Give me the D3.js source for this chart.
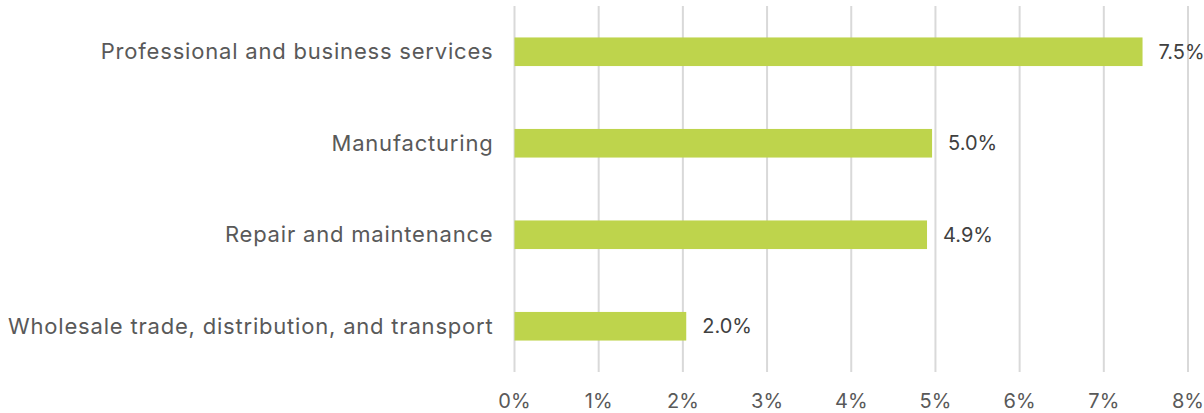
<!DOCTYPE html>
<html>
<head>
<meta charset="utf-8">
<script src="https://cdn.jsdelivr.net/npm/d3@7"></script>
<style>
  body { margin: 0; background: #fff; }
  text { font-family: "Inter", "Noto Sans", sans-serif; }
</style>
</head>
<body>
<svg id="chart"></svg>
<script>
const width = 1204;
const height = 413;

const categories = [
  "Professional and business services",
  "Manufacturing",
  "Repair and maintenance",
  "Wholesale trade, distribution, and transport"
];
const values = [7.46, 4.96, 4.90, 2.04];
const tickValues = [0, 1, 2, 3, 4, 5, 6, 7, 8];

const margin = { top: 6, right: 16, bottom: 41, left: 514.5 };

const svg = d3.select("#chart")
  .attr("width", width)
  .attr("height", height);

const x = d3.scaleLinear()
  .domain([0, 8])
  .range([margin.left, width - margin.right]);

const y = d3.scaleBand()
  .domain(categories)
  .range([margin.top, height - margin.bottom])
  .paddingInner(0.6875)
  .paddingOuter(0.34375);

// gridlines
svg.append("g")
  .selectAll("line")
  .data(tickValues)
  .join("line")
  .attr("x1", d => x(d))
  .attr("x2", d => x(d))
  .attr("y1", margin.top)
  .attr("y2", height - margin.bottom)
  .attr("stroke", "#d9d9d9")
  .attr("stroke-width", 2);

// x tick labels
svg.append("g")
  .selectAll("text")
  .data(tickValues)
  .join("text")
  .attr("x", d => x(d))
  .attr("y", 408)
  .attr("text-anchor", "middle")
  .attr("fill", "#595959")
  .attr("font-size", 20)
  .text(d => d + "%");

// bars
svg.append("g")
  .selectAll("rect")
  .data(values)
  .join("rect")
  .attr("x", x(0))
  .attr("y", (d, i) => y(categories[i]))
  .attr("width", d => x(d) - x(0))
  .attr("height", y.bandwidth())
  .attr("fill", "#bed44c");

// category labels
svg.append("g")
  .selectAll("text")
  .data(categories)
  .join("text")
  .attr("x", 493.5)
  .attr("y", d => y(d) + y.bandwidth() / 2)
  .attr("dy", "0.35em")
  .attr("text-anchor", "end")
  .attr("fill", "#595959")
  .attr("font-size", 22)
  .attr("letter-spacing", 0.8)
  .text(d => d);

// value labels
svg.append("g")
  .selectAll("text")
  .data(values)
  .join("text")
  .attr("x", d => x(d) + 16)
  .attr("y", (d, i) => y(categories[i]) + y.bandwidth() / 2)
  .attr("dy", "0.35em")
  .attr("fill", "#404040")
  .attr("font-size", 20)
  .text(d => d.toFixed(1) + "%");
</script>
</body>
</html>
